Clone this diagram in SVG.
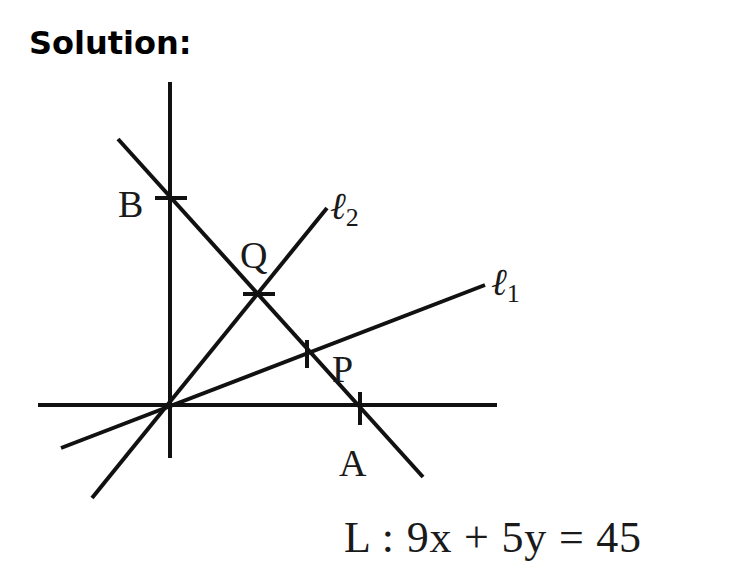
<svg xmlns="http://www.w3.org/2000/svg" width="754" height="578" viewBox="0 0 754 578">
<style>
.ln{stroke:#111;stroke-width:4;stroke-linecap:butt;fill:none}
.lb{font-family:"Liberation Serif",serif;fill:#1a1a1a}
</style>
<rect width="754" height="578" fill="#fff"/>
<text x="29" y="54" font-family="DejaVu Sans,sans-serif" font-weight="bold" font-size="32" fill="#000">Solution:</text>
<g id="connectors">
<line class="ln" x1="170" y1="82" x2="170" y2="458"/>
<line class="ln" x1="38" y1="405" x2="497" y2="405"/>
<line class="ln" x1="118" y1="139" x2="423" y2="477"/>
<line class="ln" x1="92" y1="498" x2="327" y2="208"/>
<line class="ln" x1="61" y1="448" x2="485" y2="285"/>
<line class="ln" x1="155" y1="198" x2="187" y2="198"/>
<line class="ln" x1="243" y1="294" x2="275" y2="294"/>
<line class="ln" x1="307" y1="340" x2="307" y2="368"/>
<line class="ln" x1="360" y1="392" x2="360" y2="425"/>
</g>
<g id="B"><text class="lb" x="118" y="217" font-size="38">B</text></g>
<g id="Q"><text class="lb" x="240" y="268" font-size="38">Q</text></g>
<g id="P"><text class="lb" x="332" y="382" font-size="38">P</text></g>
<g id="A"><text class="lb" x="339" y="476" font-size="38">A</text></g>
<g id="l2"><text class="lb" x="330" y="219" font-size="38" font-style="italic">ℓ<tspan font-size="26" dy="7" font-style="normal">2</tspan></text></g>
<g id="l1"><text class="lb" x="491" y="295" font-size="38" font-style="italic">ℓ<tspan font-size="26" dy="7" font-style="normal">1</tspan></text></g>
<g id="eq"><text class="lb" x="344" y="552" font-size="44" letter-spacing="0.8">L : 9x + 5y = 45</text></g>
</svg>
